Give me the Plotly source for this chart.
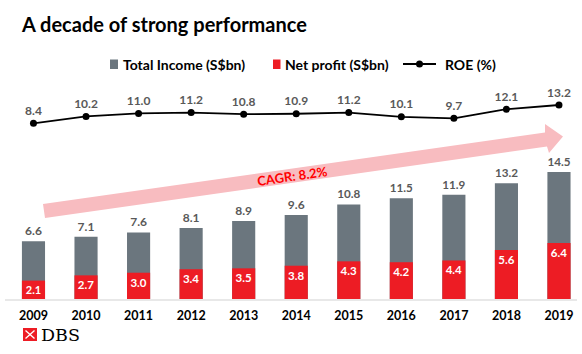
import plotly.graph_objects as go

years = [2009, 2010, 2011, 2012, 2013, 2014, 2015, 2016, 2017, 2018, 2019]
year_labels = [str(y) for y in years]
total_income = [6.6, 7.1, 7.6, 8.1, 8.9, 9.6, 10.8, 11.5, 11.9, 13.2, 14.5]
net_profit = [2.1, 2.7, 3.0, 3.4, 3.5, 3.8, 4.3, 4.2, 4.4, 5.6, 6.4]
roe = [8.4, 10.2, 11.0, 11.2, 10.8, 10.9, 11.2, 10.1, 9.7, 12.1, 13.2]
cagr_label = "CAGR: 8.2%"

W, H = 582, 354
ML, MR, MT, MB = 5, 5, 80, 55
PW, PH = W - ML - MR, H - MT - MB

GREY = "#6b767e"
RED = "#ed1c24"
PINK = "#f8bcc0"
LABEL = "#595959"
FONT = "Lato"


def px(x):
    return (x - ML) / PW


def py(y):
    return (H - MB - y) / PH


fig = go.Figure()
fig.add_trace(go.Bar(
    x=years, y=total_income, width=0.44, marker=dict(color=GREY, line_width=0),
    text=[f"{v:.1f}" for v in total_income], textposition="outside",
    textfont=dict(family=FONT, size=12, color=LABEL, weight="bold"),
    cliponaxis=False, showlegend=False, name="Total Income (S$bn)"))
fig.add_trace(go.Bar(
    x=years, y=net_profit, width=0.44, marker=dict(color=RED, line_width=0),
    text=[f"{v:.1f}" for v in net_profit], textposition="inside",
    insidetextanchor="end", textangle=0,
    textfont=dict(family=FONT, size=11.5, color="white", weight="bold"),
    showlegend=False, name="Net profit (S$bn)"))
fig.add_trace(go.Scatter(
    x=years, y=roe, yaxis="y2", mode="lines+markers+text",
    line=dict(color="black", width=1.8), marker=dict(color="black", size=7),
    text=[f"{v:.1f}" for v in roe], textposition="top center",
    textfont=dict(family=FONT, size=12, color=LABEL, weight="bold"),
    cliponaxis=False, showlegend=False, name="ROE (%)"))

# growth arrow (decoration)
pts = [(43, 204), (545, 132.5), (545, 124), (563, 136.5), (549, 153), (547, 146.5), (45, 218)]
path = "M " + " L ".join(f"{px(a):.5f},{py(b):.5f}" for a, b in pts) + " Z"
shapes = [dict(type="path", path=path, xref="paper", yref="paper",
               fillcolor=PINK, line_width=0, layer="below")]

# custom legend
shapes += [
    dict(type="rect", xref="paper", yref="paper", x0=px(110), x1=px(118), y0=py(59.5), y1=py(69),
         fillcolor=GREY, line_width=0),
    dict(type="rect", xref="paper", yref="paper", x0=px(273), x1=px(280.5), y0=py(59.5), y1=py(69),
         fillcolor=RED, line_width=0),
    dict(type="line", xref="paper", yref="paper", x0=px(403), x1=px(436), y0=py(64), y1=py(64),
         line=dict(color="black", width=1.8)),
    dict(type="circle", xref="paper", yref="paper", x0=px(416), x1=px(423), y0=py(60.5), y1=py(67.5),
         fillcolor="black", line_width=0),
]

# DBS logo icon
shapes += [
    dict(type="rect", xref="paper", yref="paper", x0=px(23), x1=px(37), y0=py(328), y1=py(341),
         fillcolor=RED, line_width=0),
    dict(type="line", xref="paper", yref="paper", x0=px(25.5), x1=px(34.5), y0=py(330.5), y1=py(338.5),
         line=dict(color="white", width=1.3)),
    dict(type="line", xref="paper", yref="paper", x0=px(25.5), x1=px(34.5), y0=py(338.5), y1=py(330.5),
         line=dict(color="white", width=1.3)),
]

legend_font = dict(family=FONT, size=14, color="black", weight="bold")
annotations = [
    dict(text="A decade of strong performance", x=px(19), y=py(24), xref="paper", yref="paper",
         xanchor="left", yanchor="middle", showarrow=False,
         font=dict(family=FONT, size=20, color="black", weight="bold")),
    dict(text="Total Income (S$bn)", x=px(121), y=py(64), xref="paper", yref="paper",
         xanchor="left", yanchor="middle", showarrow=False, font=legend_font),
    dict(text="Net profit (S$bn)", x=px(282.5), y=py(64), xref="paper", yref="paper",
         xanchor="left", yanchor="middle", showarrow=False, font=legend_font),
    dict(text="ROE (%)", x=px(443), y=py(64), xref="paper", yref="paper",
         xanchor="left", yanchor="middle", showarrow=False, font=legend_font),
    dict(text=cagr_label, x=px(292), y=py(176), xref="paper", yref="paper",
         xanchor="center", yanchor="middle", showarrow=False, textangle=-8.1,
         font=dict(family=FONT, size=13, color="#ff0000", weight="bold")),
    dict(text="DBS", x=px(38.5), y=py(334.5), xref="paper", yref="paper",
         xanchor="left", yanchor="middle", showarrow=False,
         font=dict(family="DejaVu Serif", size=17.5, color="black")),
]

fig.update_layout(
    width=W, height=H, margin=dict(l=ML, r=MR, t=MT, b=MB, pad=0),
    paper_bgcolor="white", plot_bgcolor="white",
    barmode="overlay", showlegend=False,
    xaxis=dict(range=[2008.458, 2019.343], tickvals=years, ticktext=year_labels,
               tickfont=dict(family=FONT, size=12.5, color="black", weight="bold"),
               showgrid=False, zeroline=False, showline=True, linecolor="#e8e8e8", linewidth=2,
               ticks="outside", ticklen=4, tickcolor="rgba(0,0,0,0)"),
    yaxis=dict(range=[0, (H - MB - MT) / 8.76], visible=False, fixedrange=True),
    yaxis2=dict(range=[-37.72, 19.76], overlaying="y", visible=False),
    shapes=shapes, annotations=annotations,
)

fig.write_html("out.html")
